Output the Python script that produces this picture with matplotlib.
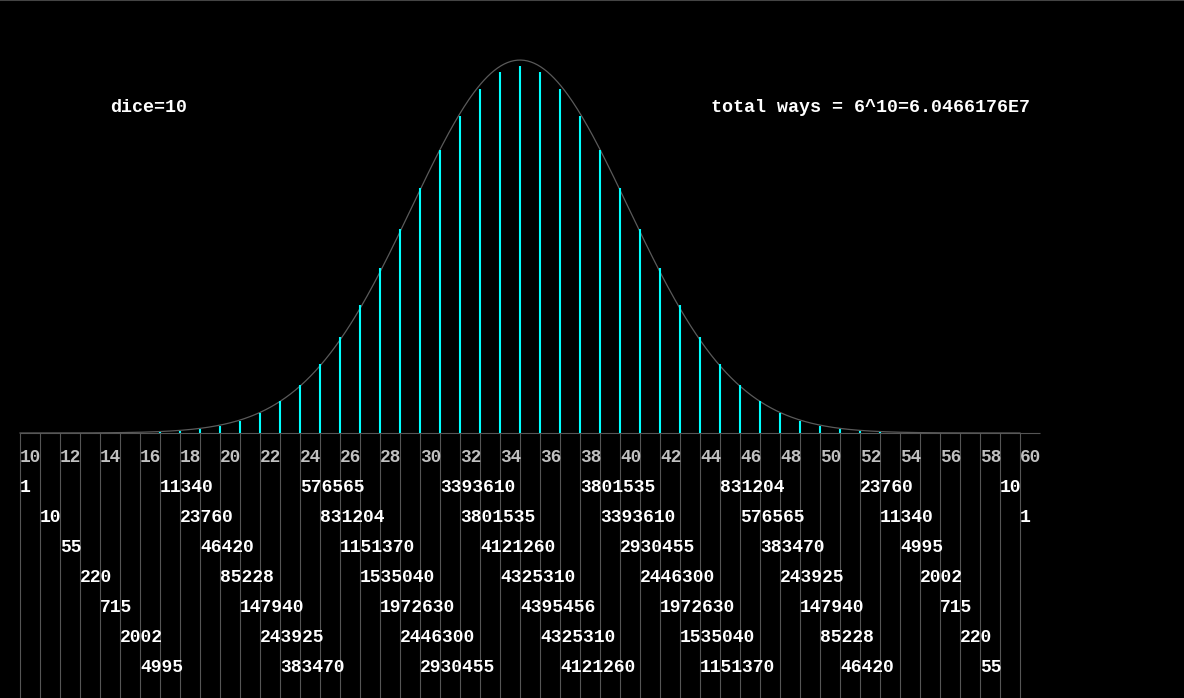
import numpy as np
import matplotlib
matplotlib.use("Agg")
import matplotlib.pyplot as plt

# sums of 10 dice and the number of ways to roll each
dice = 10
sums = list(range(10, 61))
half = [1, 10, 55, 220, 715, 2002, 4995, 11340, 23760, 46420, 85228, 147940,
        243925, 383470, 576565, 831204, 1151370, 1535040, 1972630, 2446300,
        2930455, 3393610, 3801535, 4121260, 4325310]
peak = [4395456]
ways = half + peak + half[::-1]
tick_sums = list(range(10, 61, 2))
title_left = "dice=10"
title_right = "total ways = 6^10=6.0466176E7"

W, H = 1184, 698
fig = plt.figure(figsize=(W / 100, H / 100), dpi=100, facecolor="black")
ax = fig.add_axes([0, 0, 1, 1])
ax.set_facecolor("black")
ax.axis("off")

# pixel layout: sum 10 at x=20, 20 px per sum; count 0 at y=433, peak at y=66
px_per_sum = 20
x0 = 10 - 20 / px_per_sum
ax.set_xlim(x0, x0 + W / px_per_sum)
cnt_per_px = max(ways) / (433 - 66)
ax.set_ylim(-(H - 433) * cnt_per_px, 433 * cnt_per_px)
ybot = -(H - 433) * cnt_per_px

# grid lines below the axis
ax.vlines(sums, ybot, 0, color="#555555", lw=0.8)
ax.hlines(0, 10, 61, color="#555555", lw=0.8)

# normal approximation curve
mu = dice * 3.5
sd = np.sqrt(dice * 35 / 12)
xs = np.linspace(10, 60, 600)
ys = 6 ** dice * np.exp(-(xs - mu) ** 2 / (2 * sd ** 2)) / (sd * np.sqrt(2 * np.pi))
ax.plot(xs, ys, color="#5a5a5a", lw=0.9)

# counts as cyan stems
ax.vlines(sums, 0, ways, color="#00ffff", lw=1.5)

mono = "Liberation Mono"
tr = ax.get_xaxis_transform()
for s in tick_sums:
    ax.text(s, (H - 457) / H, str(s), transform=tr, color="#c0c0c0",
            fontsize=12.8, family=mono, weight="bold", ha="left", va="center")

for i, (s, w) in enumerate(zip(sums, ways)):
    row = i % 7
    ax.text(s, (H - 488 - 30 * row) / H, str(w), transform=tr, color="white",
            fontsize=13, family=mono, weight="bold", ha="left", va="center")

ax.text(110 / W, (H - 108) / H, title_left, transform=ax.transAxes, color="white",
        fontsize=13.2, family=mono, weight="bold", ha="left", va="center")
ax.text(711 / W, (H - 108) / H, title_right, transform=ax.transAxes, color="white",
        fontsize=13.2, family=mono, weight="bold", ha="left", va="center")

# thin window edge at the top
ax.axhline(433 * cnt_per_px, color="#444444", lw=1.5)

fig.savefig("out.png", dpi=100, facecolor="black")
